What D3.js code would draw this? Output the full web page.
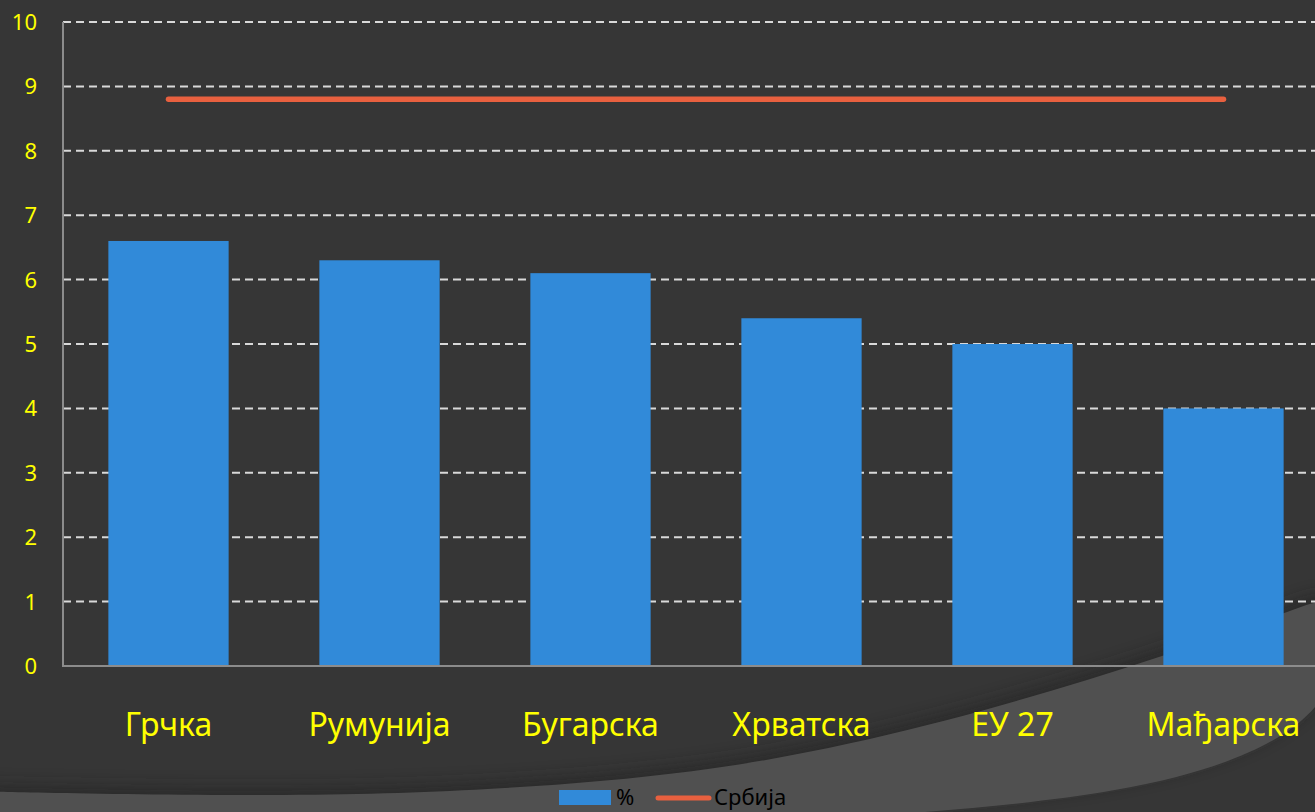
<!DOCTYPE html>
<html>
<head>
<meta charset="utf-8">
<script src="https://cdn.jsdelivr.net/npm/d3@7"></script>
<style>
  html, body { margin: 0; padding: 0; background: #363636; overflow: hidden; }
  svg { display: block; font-family: "Noto Sans", sans-serif; }
</style>
</head>
<body>
<svg id="chart"></svg>
<script>
// chart data
const categories = ["Грчка", "Румунија", "Бугарска", "Хрватска", "ЕУ 27", "Мађарска"];
const percentValues = [6.6, 6.3, 6.1, 5.4, 5.0, 4.0];
const serbiaValue = 8.8;
const yTicks = [0, 1, 2, 3, 4, 5, 6, 7, 8, 9, 10];
const legendLabels = ["%", "Србија"];

const width = 1315;
const height = 812;
const margin = { top: 22, right: -14, bottom: 146, left: 63 };

const svg = d3.select("#chart")
    .attr("width", width)
    .attr("height", height);

// background: dark slide with lighter swoosh at the bottom
const defs = svg.append("defs");
defs.append("filter")
    .attr("id", "shade")
    .attr("x", "-10%").attr("y", "-50%")
    .attr("width", "120%").attr("height", "200%")
    .append("feGaussianBlur")
    .attr("stdDeviation", 8);

svg.append("rect")
    .attr("width", width)
    .attr("height", height)
    .attr("fill", "#363636");

const swoosh = d3.line().curve(d3.curveBasis)([
    [-20, 791], [0, 792], [300, 797], [500, 790], [700, 773], [850, 745],
    [1000, 707], [1163, 657], [1315, 602], [1340, 592],
    [1340, 830], [-20, 830]
]);

svg.append("path")
    .attr("d", swoosh)
    .attr("fill", "#202020")
    .attr("opacity", 0.55)
    .attr("transform", "translate(0,-7)")
    .attr("filter", "url(#shade)");

svg.append("path")
    .attr("d", swoosh)
    .attr("fill", "#505050");

// scales
const x = d3.scaleBand()
    .domain(categories)
    .range([margin.left, width - margin.right])
    .paddingInner(0.43)
    .paddingOuter(0.215);

const y = d3.scaleLinear()
    .domain([0, 10])
    .range([height - margin.bottom, margin.top]);

// dashed gridlines
svg.append("g")
    .selectAll("line")
    .data(yTicks.filter(d => d > 0))
    .enter()
    .append("line")
    .attr("x1", margin.left)
    .attr("x2", width)
    .attr("y1", d => y(d))
    .attr("y2", d => y(d))
    .attr("stroke", "#d9d9d9")
    .attr("stroke-width", 2)
    .attr("stroke-dasharray", "8,5");

// bars
svg.append("g")
    .selectAll("rect")
    .data(categories)
    .enter()
    .append("rect")
    .attr("x", d => x(d))
    .attr("y", (d, i) => y(percentValues[i]))
    .attr("width", x.bandwidth())
    .attr("height", (d, i) => y(0) - y(percentValues[i]))
    .attr("fill", "#318ad9");

// axis lines
svg.append("line")
    .attr("x1", margin.left).attr("x2", margin.left)
    .attr("y1", y(10)).attr("y2", y(0))
    .attr("stroke", "#8c8c8c")
    .attr("stroke-width", 2);

svg.append("line")
    .attr("x1", margin.left - 1).attr("x2", width)
    .attr("y1", y(0)).attr("y2", y(0))
    .attr("stroke", "#8c8c8c")
    .attr("stroke-width", 2);

// Serbia line across bar centres
const serbiaLine = d3.line()
    .x(d => x(d) + x.bandwidth() / 2)
    .y(() => y(serbiaValue));

svg.append("path")
    .attr("d", serbiaLine(categories))
    .attr("fill", "none")
    .attr("stroke", "#e8603f")
    .attr("stroke-width", 5.5)
    .attr("stroke-linecap", "round");

// y tick labels
svg.append("g")
    .selectAll("text")
    .data(yTicks)
    .enter()
    .append("text")
    .attr("x", 37)
    .attr("y", d => y(d))
    .attr("dy", "0.36em")
    .attr("text-anchor", "end")
    .attr("fill", "#ffff00")
    .style("font-size", "22px")
    .text(d => d);

// category labels
svg.append("g")
    .selectAll("text")
    .data(categories)
    .enter()
    .append("text")
    .attr("x", d => x(d) + x.bandwidth() / 2)
    .attr("y", 736)
    .attr("text-anchor", "middle")
    .attr("fill", "#ffff00")
    .style("font-size", "32px")
    .text(d => d);

// legend (kept just inside the bottom edge)
const legend = svg.append("g");

legend.append("rect")
    .attr("x", 559).attr("y", 790)
    .attr("width", 52).attr("height", 15)
    .attr("fill", "#318ad9");

legend.append("text")
    .attr("x", 616).attr("y", 805)
    .attr("fill", "#000")
    .style("font-size", "22px")
    .text(legendLabels[0]);

legend.append("line")
    .attr("x1", 658).attr("x2", 709)
    .attr("y1", 798).attr("y2", 798)
    .attr("stroke", "#e8603f")
    .attr("stroke-width", 5)
    .attr("stroke-linecap", "round");

legend.append("text")
    .attr("x", 714).attr("y", 805)
    .attr("fill", "#000")
    .style("font-size", "22px")
    .text(legendLabels[1]);
</script>
</body>
</html>
